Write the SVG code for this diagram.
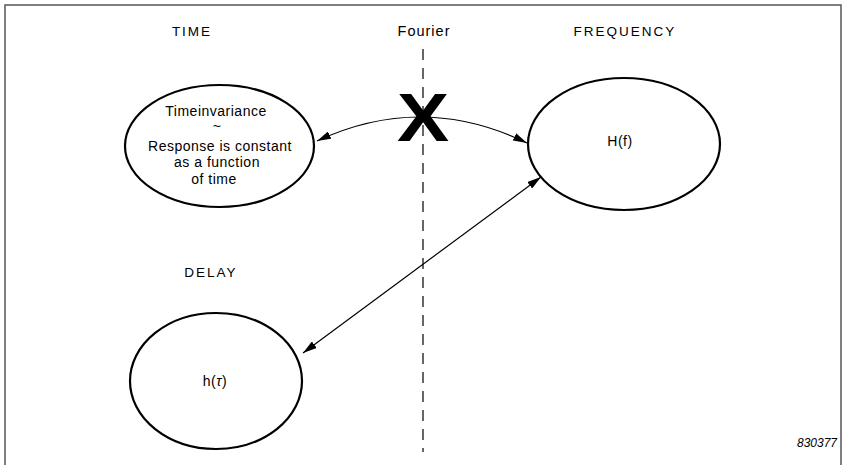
<svg xmlns="http://www.w3.org/2000/svg" width="844" height="465" viewBox="0 0 844 465">
  <defs>
    <marker id="arrow" viewBox="0 0 14 8" refX="14" refY="4" markerWidth="14" markerHeight="8" markerUnits="userSpaceOnUse" orient="auto-start-reverse">
      <path d="M0,0 L14,4 L0,8 Z" fill="#000"/>
    </marker>
    <style>
      text { font-family: "Liberation Sans", Arial, sans-serif; fill: #000; }
      .lbl { font-size: 13.5px; letter-spacing: 2px; text-anchor: middle; }
      .body { font-size: 14px; letter-spacing: 0.5px; text-anchor: middle; }
      .node { fill: #fff; stroke: #000; stroke-width: 2.2; }
      .conn { fill: none; stroke: #000; stroke-width: 1.2; }
    </style>
  </defs>
  <rect width="844" height="465" fill="#fff"/>

  <!-- frame -->
  <path d="M5,465 V5 H841 V465" fill="none" stroke="#555" stroke-width="1.5"/>

  <!-- domain headings -->
  <text class="lbl" x="192" y="36">TIME</text>
  <text class="lbl" x="424" y="36" style="font-size:14.5px;letter-spacing:1px">Fourier</text>
  <text class="lbl" x="625" y="36">FREQUENCY</text>
  <text class="lbl" x="211" y="277">DELAY</text>

  <!-- Fourier divider -->
  <line x1="423" y1="49" x2="423" y2="452" stroke="#000" stroke-width="1.2" stroke-dasharray="11 8"/>

  <g id="time">
    <ellipse class="node" cx="219.5" cy="146" rx="94.5" ry="61"/>
    <text class="body" x="216" y="116">Timeinvariance</text>
    <text class="body" x="217" y="131">~</text>
    <text class="body" x="220" y="151">Response is constant</text>
    <text class="body" x="217" y="167">as a function</text>
    <text class="body" x="214" y="184">of time</text>
  </g>

  <g id="frequency">
    <ellipse class="node" cx="624" cy="144" rx="96" ry="66"/>
    <text class="body" x="620" y="146">H(f)</text>
  </g>

  <g id="delay">
    <ellipse class="node" cx="216" cy="381" rx="86" ry="68"/>
    <text class="body" x="215" y="386">h(<tspan font-style="italic">τ</tspan>)</text>
  </g>

  <g id="connectors">
    <path class="conn" d="M317,141 Q422,92 527,143" marker-start="url(#arrow)" marker-end="url(#arrow)"/>
    <path class="conn" d="M541,177 L303,353" marker-start="url(#arrow)" marker-end="url(#arrow)"/>
  </g>

  <!-- no Fourier pair between time-invariance and H(f) -->
  <text x="423" y="141" font-size="68" font-weight="bold" text-anchor="middle" transform="translate(423 0) scale(1.15 1) translate(-423 0)">X</text>

  <text x="837" y="447" font-size="12" font-style="italic" text-anchor="end">830377</text>
</svg>
